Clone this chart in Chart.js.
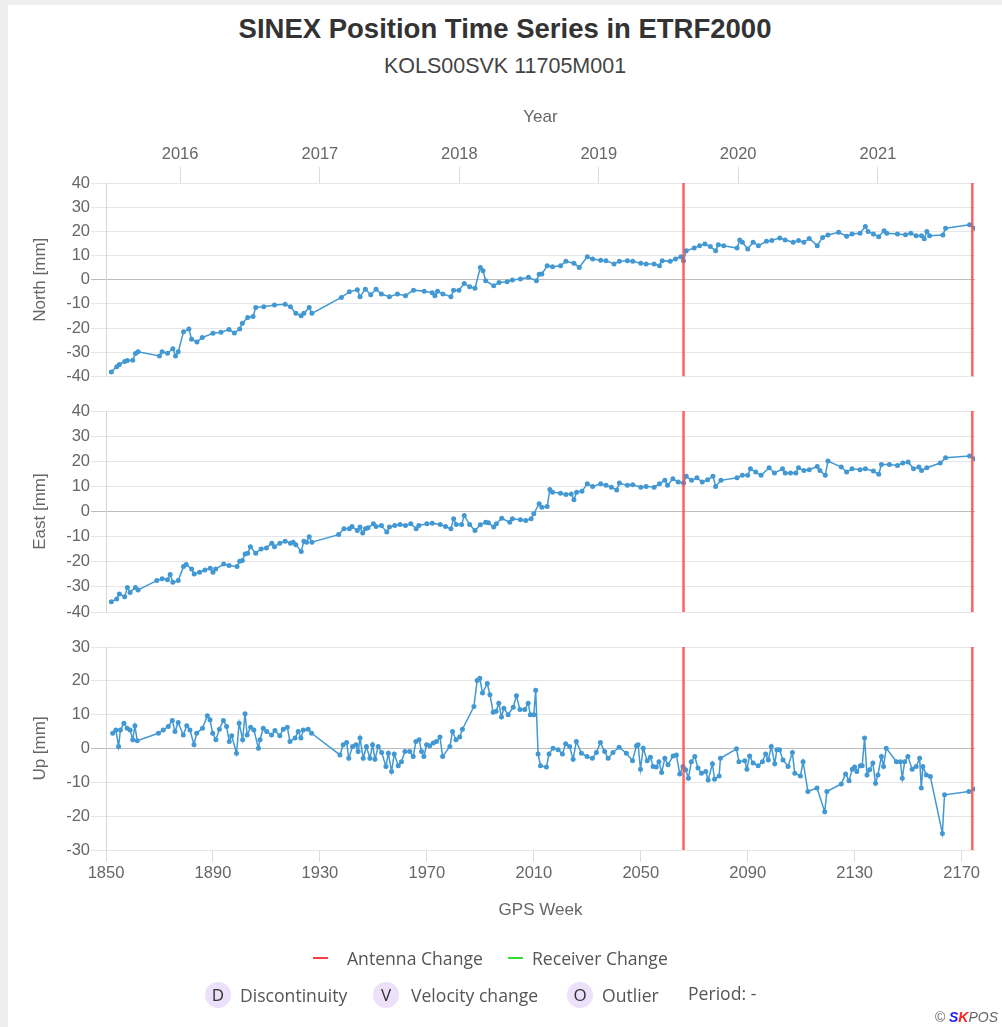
<!DOCTYPE html>
<html>
<head>
<meta charset="utf-8">
<title>SINEX Position Time Series in ETRF2000</title>
<script src="https://cdn.jsdelivr.net/npm/chart.js@4.4.1/dist/chart.umd.min.js"></script>
<style>
  html, body { margin:0; padding:0; width:1002px; height:1027px; overflow:hidden; background:#eeeeee; font-family:"Liberation Sans", Arial, sans-serif; }
  #panel { position:absolute; left:8px; top:5px; width:994px; height:1022px; background:#ffffff; }
  #c { position:absolute; left:0; top:0; }
  .ttl { position:absolute; left:8px; width:994px; text-align:center; color:#333333; white-space:nowrap; }
  #title { top:12px; font-size:27.5px; font-weight:bold; line-height:34px; }
  #subtitle { top:53px; font-size:21.5px; line-height:26px; color:#444; }
  .lg { position:absolute; font-family:"Open Sans", sans-serif; font-size:17.6px; color:#555; white-space:nowrap; line-height:22px; }
  .dash { position:absolute; height:2px; width:15px; }
  .circ { position:absolute; width:26px; height:26px; border-radius:13px; background:#ece0fa; color:#333; text-align:center; line-height:26px; font-family:"Open Sans", sans-serif; font-size:17px; }
  #credit { position:absolute; right:4px; top:1009px; font-size:14px; font-style:italic; color:#666; white-space:nowrap; }
</style>
</head>
<body>
<div id="panel"></div>
<div id="title" class="ttl">SINEX Position Time Series in ETRF2000</div>
<div id="subtitle" class="ttl">KOLS00SVK 11705M001</div>
<canvas id="c" width="1002" height="1027"></canvas>

<div class="dash" style="left:313px;top:957px;background:#ff4040;"></div>
<div class="lg" style="left:347px;top:947px;">Antenna Change</div>
<div class="dash" style="left:508px;top:957px;background:#33dd33;"></div>
<div class="lg" style="left:532px;top:947px;">Receiver Change</div>

<div class="circ" style="left:205px;top:982px;">D</div>
<div class="lg" style="left:240px;top:984px;">Discontinuity</div>
<div class="circ" style="left:373px;top:982px;">V</div>
<div class="lg" style="left:411px;top:984px;">Velocity change</div>
<div class="circ" style="left:567px;top:982px;">O</div>
<div class="lg" style="left:602px;top:984px;">Outlier</div>
<div class="lg" style="left:688px;top:982px;">Period: -</div>

<div id="credit">© <span style="color:#1a1aff;font-weight:bold;">S</span><span style="color:#ff2020;font-weight:bold;">K</span>POS</div>

<script>
// ---------- DATA ----------
const gpsWeekTicks = [1850, 1890, 1930, 1970, 2010, 2050, 2090, 2130, 2170];
const yearTicks = [2016, 2017, 2018, 2019, 2020, 2021];
const antennaChangeWeeks = [2066, 2174];

const northWeeks = [1852,1854,1855,1857,1858,1860,1861,1862,1870,1871,1873,1875,1876,1877,1879,1881,1882,1884,1886,1890,1893,1896,1898,1900,1901,1903,1905,1906,1909,1913,1917,1919,1921,1923,1924,1926,1927,1938,1941,1944,1945,1947,1949,1951,1953,1956,1959,1962,1965,1969,1972,1973,1974,1976,1979,1980,1982,1984,1986,1988,1990,1991,1992,1995,1997,2000,2002,2005,2008,2011,2012,2013,2015,2017,2020,2022,2025,2027,2030,2032,2035,2037,2040,2042,2045,2047,2050,2052,2055,2057,2058,2061,2063,2065,2066,2067,2070,2072,2074,2076,2078,2079,2081,2086,2087,2088,2090,2092,2094,2097,2099,2102,2104,2107,2109,2111,2113,2116,2118,2120,2124,2127,2129,2132,2134,2135,2137,2139,2141,2142,2146,2149,2151,2153,2155,2156,2157,2158,2163,2164,2173,2175];
const northValues = [-38.1,-36.0,-35.0,-33.8,-33.4,-33.3,-30.5,-29.8,-31.5,-29.8,-30.4,-28.5,-31.5,-29.8,-21.5,-20.4,-24.6,-25.7,-23.9,-22.1,-21.7,-20.6,-22.0,-20.4,-18.0,-15.6,-15.2,-11.5,-11.2,-10.4,-10.1,-11.2,-13.9,-14.9,-13.9,-11.5,-13.9,-7.3,-5.0,-4.1,-7.0,-3.9,-6.2,-3.9,-5.9,-7.0,-5.9,-6.6,-4.3,-4.8,-5.4,-6.6,-4.8,-5.9,-7.0,-4.3,-4.3,-1.5,-2.9,-3.5,5.1,3.7,-0.4,-2.5,-1.1,-0.8,-0.1,0.3,1.0,-0.4,2.3,2.4,5.8,5.4,5.8,7.6,6.8,5.1,9.5,8.6,8.1,7.9,6.5,7.6,7.9,7.6,6.8,6.5,6.5,5.8,7.9,7.6,8.6,9.5,7.9,12.0,13.1,14.1,14.8,13.7,12.0,14.5,14.1,13.1,16.4,15.5,12.7,15.5,14.1,15.9,16.2,17.3,16.4,15.5,16.2,15.5,17.1,14.1,17.5,18.5,19.6,18.0,18.9,19.2,22.0,19.9,18.9,17.8,20.3,19.2,18.9,18.6,19.2,18.2,18.2,16.9,20.0,18.2,18.5,21.3,22.7,21.3];

const eastWeeks = [1852,1854,1855,1857,1858,1859,1861,1862,1869,1871,1873,1874,1875,1877,1879,1880,1882,1883,1885,1887,1889,1890,1891,1894,1896,1899,1900,1901,1902,1903,1904,1906,1908,1910,1912,1913,1915,1917,1919,1920,1921,1923,1924,1925,1926,1927,1937,1939,1941,1942,1944,1945,1946,1947,1948,1950,1951,1953,1955,1956,1958,1960,1962,1964,1966,1967,1970,1972,1975,1977,1979,1980,1981,1983,1984,1986,1988,1990,1992,1993,1995,1996,1998,2001,2002,2005,2007,2009,2010,2012,2013,2015,2016,2017,2020,2022,2024,2025,2026,2028,2030,2032,2035,2037,2039,2041,2042,2045,2047,2050,2052,2055,2057,2059,2060,2062,2064,2066,2067,2069,2071,2073,2075,2077,2078,2080,2086,2088,2090,2091,2093,2095,2098,2100,2103,2104,2106,2108,2109,2111,2113,2116,2117,2119,2120,2125,2127,2129,2132,2134,2137,2139,2140,2143,2146,2148,2150,2152,2154,2155,2157,2162,2164,2173,2175];
const eastValues = [-35.9,-34.8,-32.8,-33.9,-30.2,-32.2,-30.2,-31.2,-27.5,-26.8,-27.2,-25.1,-28.2,-27.5,-21.9,-21.1,-22.9,-24.9,-24.2,-23.3,-22.6,-24.2,-22.9,-20.9,-21.5,-21.9,-19.8,-19.5,-16.9,-16.6,-14.0,-16.6,-14.9,-14.5,-12.6,-14.0,-12.6,-11.8,-12.6,-12.2,-13.2,-15.9,-11.8,-12.2,-10.0,-12.2,-9.2,-6.9,-6.9,-6.0,-7.6,-6.2,-8.6,-6.9,-6.5,-4.9,-6.0,-5.6,-8.2,-6.2,-5.6,-5.2,-5.6,-4.9,-6.9,-5.6,-4.9,-4.7,-5.2,-6.0,-6.9,-2.9,-5.2,-5.2,-1.6,-5.2,-7.6,-5.3,-4.3,-4.5,-6.2,-4.9,-2.7,-4.3,-2.9,-3.3,-3.6,-2.9,-0.9,3.1,1.7,2.0,8.8,7.7,7.3,6.8,7.0,4.7,7.7,8.1,11.0,10.0,11.0,10.4,9.7,8.6,11.3,10.4,10.6,9.7,10.0,9.7,11.0,12.4,10.4,13.0,11.7,11.3,14.0,12.4,13.4,11.7,12.6,14.0,10.0,12.4,13.4,14.4,14.4,17.0,15.7,14.4,17.4,15.3,17.0,15.3,15.3,15.3,17.4,16.3,16.6,17.9,16.3,14.4,20.1,17.7,15.7,17.0,16.6,17.0,16.1,14.8,18.7,18.7,18.3,19.3,19.7,17.0,17.7,16.3,17.4,19.3,21.4,22.1,21.0];

const upWeeks = [1852.5,1853.7,1854.7,1855.4,1856.7,1857.9,1859.0,1860.0,1860.8,1861.7,1869.6,1871.4,1873.3,1874.8,1875.8,1877.0,1878.9,1880.2,1881.4,1882.9,1883.9,1886.1,1887.9,1888.9,1889.9,1891.1,1892.4,1893.9,1895.1,1896.1,1897.0,1898.8,1899.8,1901.1,1902.0,1902.8,1904.1,1905.3,1907.0,1907.6,1908.8,1910.1,1911.9,1913.2,1915.0,1916.3,1917.8,1918.8,1920.7,1921.9,1922.9,1923.8,1925.6,1926.9,1937.5,1938.7,1940.0,1940.8,1942.2,1943.5,1944.3,1945.0,1946.2,1947.4,1948.7,1949.7,1950.6,1951.8,1953.1,1954.7,1955.6,1956.8,1957.8,1959.3,1960.5,1961.8,1963.6,1964.9,1965.9,1967.1,1968.0,1968.9,1969.9,1971.1,1972.4,1973.6,1974.9,1975.9,1978.6,1979.6,1980.9,1982.3,1983.3,1987.6,1988.8,1989.8,1990.8,1992.6,1993.6,1994.8,1995.9,1996.9,1997.9,1998.8,2000.4,2002.3,2003.5,2004.8,2006.6,2007.9,2008.7,2010.0,2010.7,2011.6,2012.5,2014.7,2015.7,2017.2,2019.1,2020.7,2021.9,2023.4,2024.7,2025.9,2027.8,2029.9,2031.9,2033.4,2034.9,2036.5,2037.8,2039.6,2041.9,2044.6,2046.9,2048.4,2049.0,2049.9,2050.9,2052.4,2053.6,2054.6,2055.8,2056.8,2057.8,2059.0,2060.2,2062.1,2063.3,2064.6,2065.8,2066.8,2067.8,2068.9,2070.2,2071.4,2072.7,2074.3,2075.2,2076.8,2077.6,2079.3,2079.8,2085.8,2086.7,2088.9,2089.7,2090.7,2092.0,2093.9,2095.5,2096.7,2097.7,2098.8,2100.1,2100.9,2101.9,2103.2,2105.1,2106.7,2107.6,2109.7,2110.7,2112.5,2115.9,2118.8,2119.6,2125.0,2126.6,2127.9,2129.1,2130.0,2130.8,2132.1,2132.8,2133.7,2134.6,2135.6,2136.8,2137.8,2138.7,2140.0,2140.8,2141.8,2145.6,2147.1,2147.8,2148.7,2149.9,2151.5,2153.0,2154.3,2154.9,2155.5,2156.8,2158.3,2162.8,2163.6,2172.7,2175.0];
const upValues = [4.5,5.5,0.6,5.5,7.5,6.0,5.5,2.6,6.7,2.3,4.5,5.5,6.5,8.3,5.0,7.7,4.0,6.7,5.5,1.1,4.5,6.0,9.7,8.5,4.5,2.6,5.7,8.3,6.5,2.1,3.8,-1.4,7.5,2.6,10.3,4.0,6.3,5.5,0.1,2.6,6.0,5.0,4.0,5.3,3.8,5.7,6.3,2.1,3.1,5.0,3.1,5.5,5.7,4.5,-1.9,1.1,1.8,-2.9,0.6,1.1,-0.9,3.1,-2.9,0.6,-2.9,1.1,-3.2,0.6,-1.2,-5.3,-1.4,-6.8,-1.6,-5.1,-3.9,-0.9,-0.9,-2.4,2.1,2.6,-0.9,-2.4,1.1,0.8,1.6,2.1,3.4,-2.4,0.6,5.0,2.6,3.4,5.7,12.4,20.1,20.8,16.4,19.2,15.9,10.7,11.0,13.4,9.3,11.9,10.0,12.2,15.6,11.5,11.5,13.4,10.0,10.0,17.2,-1.6,-5.1,-5.5,-1.6,0.1,-0.4,-1.6,1.4,0.6,-3.2,2.1,-1.4,-2.4,-2.9,-1.2,1.8,-0.9,-2.9,-1.2,0.4,-1.4,-3.6,0.8,1.1,-6.1,0.1,-3.6,-2.6,-5.3,-5.5,-3.9,-7.1,-2.9,-4.8,-2.2,-1.9,-7.5,-5.3,-6.3,-8.8,-3.9,-2.4,-5.8,-7.3,-6.8,-9.3,-4.5,-9.1,-8.1,-2.9,-0.1,-3.9,-3.6,-6.1,-2.2,-4.3,-5.1,-3.9,-1.6,-3.4,0.6,-4.5,-0.4,-0.4,-3.4,-5.3,-1.2,-7.3,-8.1,-3.9,-12.7,-11.7,-18.7,-12.7,-10.5,-7.5,-9.5,-6.1,-5.5,-6.8,-5.1,-5.1,3.1,-7.8,-6.3,-4.3,-10.3,-7.8,-2.4,-5.3,0.1,-3.9,-3.9,-8.8,-3.9,-2.4,-6.1,-5.3,-2.9,-11.7,-5.3,-7.8,-8.3,-25.1,-13.7,-12.7,-12.0];

// ---------- CHART ----------
const BLUE = '#4298d2';
const RED = 'rgba(255,70,70,0.85)';
const GRID = '#e6e6e6';
const ZERO = '#bdbdbd';
const AXISW = 96;

Chart.defaults.font.family = '"Liberation Sans", Arial, sans-serif';
Chart.defaults.color = '#666666';

function gpsWeekOfYear(y) {
  return (Date.UTC(y, 0, 1) - Date.UTC(1980, 0, 6)) / (7 * 86400000);
}
const yearWeeks = yearTicks.map(gpsWeekOfYear);

const panels = [
  { id: 'yNorth', title: 'North [mm]', weeks: northWeeks, values: northValues, min: -40, max: 40 },
  { id: 'yEast',  title: 'East [mm]',  weeks: eastWeeks,  values: eastValues,  min: -40, max: 40 },
  { id: 'yUp',    title: 'Up [mm]',    weeks: upWeeks,    values: upValues,    min: -30, max: 30 }
];
const panelWeights = { yNorth: 193.5, yGap1: 34.5, yEast: 201, yGap2: 35, yUp: 203 };

const datasets = [];
panels.forEach(p => {
  datasets.push({
    label: p.title,
    yAxisID: p.id,
    data: p.weeks.map((w, i) => ({ x: w, y: p.values[i] })),
    borderColor: BLUE,
    backgroundColor: BLUE,
    borderWidth: 1.5,
    pointRadius: 2.5,
    pointBorderWidth: 0,
    pointBackgroundColor: BLUE,
    tension: 0,
    order: 1
  });
  antennaChangeWeeks.forEach(w => {
    datasets.push({
      label: 'Antenna Change',
      yAxisID: p.id,
      data: [{ x: w, y: p.min }, { x: w, y: p.max }],
      borderColor: RED,
      borderWidth: 2.5,
      pointRadius: 0,
      order: 0
    });
  });
});

function yAxis(p) {
  return {
    type: 'linear', axis: 'y', position: 'left', stack: 'panels', stackWeight: panelWeights[p.id],
    min: p.min, max: p.max,
    ticks: { stepSize: 10, autoSkip: false, font: { size: 16.5 }, color: '#666', padding: 1,
             callback: v => String(v) },
    grid: { color: c => (c.tick && c.tick.value === 0 ? ZERO : GRID), lineWidth: 1, tickLength: 15, drawTicks: true },
    border: { display: true, color: '#d6d6d6' },
    title: { display: true, text: p.title, font: { size: 17 }, color: '#666', padding: { top: 20, bottom: 0 } },
    afterFit: s => { s.width = AXISW; }
  };
}
function gapAxis(id) {
  return {
    type: 'linear', axis: 'y', position: 'left', stack: 'panels', stackWeight: panelWeights[id],
    display: true,
    ticks: { display: false }, grid: { display: false }, border: { display: false },
    afterFit: s => { s.width = AXISW; }
  };
}

const byId = {};
panels.forEach(p => byId[p.id] = p);

new Chart(document.getElementById('c'), {
  type: 'line',
  data: { datasets },
  options: {
    responsive: false,
    animation: false,
    devicePixelRatio: 1,
    layout: { padding: { left: 10, right: 27, top: 95, bottom: 97 } },
    plugins: { legend: { display: false }, tooltip: { enabled: false }, title: { display: false } },
    scales: {
      x: {
        type: 'linear', position: 'bottom', min: 1850, max: 2175,
        afterBuildTicks: s => { s.ticks = gpsWeekTicks.map(v => ({ value: v })); },
        ticks: { font: { size: 16.5 }, color: '#666', padding: 2, autoSkip: false, maxRotation: 0,
                 callback: v => String(v) },
        grid: { drawOnChartArea: false, drawTicks: true, tickLength: 12, color: '#dcdcdc' },
        border: { display: false },
        title: { display: true, text: 'GPS Week', font: { size: 17 }, color: '#666', padding: { top: 0, bottom: 9 } },
        afterFit: s => { s.height = 80; }
      },
      x2: {
        type: 'linear', axis: 'x', position: 'top', min: 1850, max: 2175,
        afterBuildTicks: s => { s.ticks = yearWeeks.map(v => ({ value: v })); },
        ticks: {
          font: { size: 16.5 }, color: '#666', padding: 3, autoSkip: false, maxRotation: 0,
          callback: (v, i) => String(yearTicks[i])
        },
        grid: { drawOnChartArea: false, drawTicks: true, tickLength: 16, color: '#dcdcdc' },
        border: { display: false },
        title: { display: true, text: 'Year', font: { size: 17 }, color: '#666', padding: { top: 12, bottom: 0 } },
        afterFit: s => { s.height = 88; }
      },
      yUp: yAxis(byId.yUp),
      yGap2: gapAxis('yGap2'),
      yEast: yAxis(byId.yEast),
      yGap1: gapAxis('yGap1'),
      yNorth: yAxis(byId.yNorth)
    }
  }
});
</script>
</body>
</html>
